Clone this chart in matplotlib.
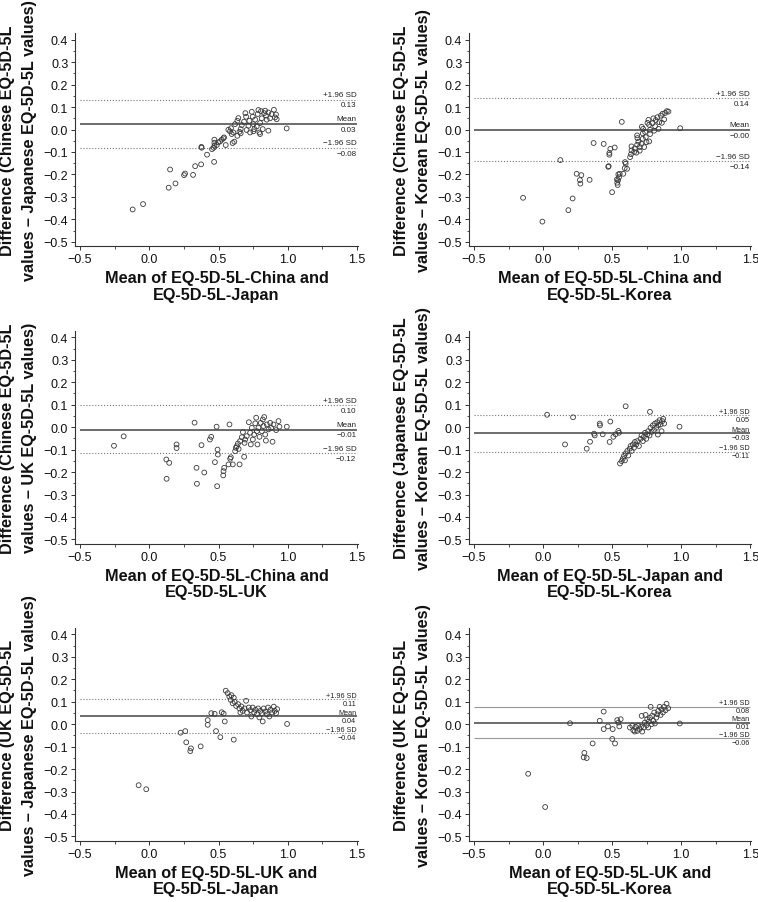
import matplotlib
matplotlib.use("Agg")
import matplotlib.pyplot as plt
from matplotlib.ticker import MultipleLocator

plt.rcParams["font.family"] = ["Liberation Sans", "DejaVu Sans"]

# Chinese vs Japanese
p1_x = [-0.12, -0.045, 0.14, 0.15, 0.189, 0.251, 0.258, 0.316, 0.331, 0.374, 0.376, 0.378,
        0.417, 0.468, 0.453, 0.465, 0.47, 0.47, 0.47, 0.487, 0.499, 0.511, 0.523, 0.535,
        0.54, 0.552, 0.602, 0.614, 0.571, 0.583, 0.59, 0.607, 0.619, 0.636, 0.643, 0.636,
        0.651, 0.66, 0.668, 0.684, 0.694, 0.699, 0.703, 0.716, 0.723, 0.728, 0.74, 0.747,
        0.752, 0.759, 0.764, 0.776, 0.783, 0.788, 0.795, 0.8, 0.807, 0.812, 0.819, 0.829,
        0.836, 0.843, 0.848, 0.86, 0.86, 0.872, 0.884, 0.9, 0.908, 0.915, 0.92, 0.992,
        0.8, 0.752, 0.66, 0.595]
p1_y = [-0.356, -0.332, -0.259, -0.178, -0.24, -0.203, -0.196, -0.202, -0.163, -0.155, -0.077, -0.081,
        -0.112, -0.144, -0.087, -0.081, -0.072, -0.059, -0.045, -0.069, -0.057, -0.053, -0.045, -0.039,
        -0.035, -0.069, -0.06, -0.054, -0.001, -0.008, 0.006, -0.013, 0.024, 0.039, 0.051, -0.028,
        -0.01, 0.002, 0.02, 0.035, 0.073, 0.057, -0.002, 0.017, 0.039, -0.013, 0.079, 0.057,
        0.024, 0.002, 0.044, 0.014, 0.069, 0.087, -0.013, 0.029, 0.082, 0.05, 0.002, 0.073,
        0.084, 0.062, 0.044, -0.005, 0.076, 0.05, 0.069, 0.088, 0.054, 0.067, 0.046, 0.005,
        -0.02, -0.008, -0.017, -0.02]

# Chinese vs Korean
p2_x = [-0.145, -0.005, 0.125, 0.183, 0.214, 0.267, 0.27, 0.243, 0.277, 0.337, 0.366, 0.439,
        0.472, 0.48, 0.48, 0.487, 0.5, 0.519, 0.545, 0.535, 0.537, 0.54, 0.57, 0.581,
        0.594, 0.598, 0.591, 0.608, 0.555, 0.55, 0.543, 0.63, 0.637, 0.64, 0.64, 0.659,
        0.664, 0.676, 0.681, 0.683, 0.681, 0.69, 0.7, 0.7, 0.712, 0.722, 0.722, 0.724,
        0.732, 0.739, 0.744, 0.749, 0.763, 0.756, 0.768, 0.768, 0.775, 0.775, 0.792, 0.799,
        0.804, 0.811, 0.816, 0.828, 0.836, 0.841, 0.853, 0.86, 0.865, 0.877, 0.884, 0.896,
        0.908, 0.993, 0.715, 0.475]
p2_y = [-0.304, -0.41, -0.136, -0.359, -0.307, -0.225, -0.241, -0.197, -0.203, -0.224, -0.06, -0.064,
        -0.166, -0.104, -0.112, -0.086, -0.279, -0.08, -0.2, -0.222, -0.237, -0.247, 0.034, -0.197,
        -0.145, -0.152, -0.172, -0.175, -0.197, -0.212, -0.226, -0.123, -0.11, -0.093, -0.075, -0.1,
        -0.084, -0.103, -0.068, -0.038, -0.026, -0.054, -0.078, -0.094, -0.063, -0.041, -0.017, 0.003,
        -0.078, -0.011, -0.034, -0.056, 0.043, 0.03, 0.021, -0.053, -0.02, -0.001, 0.028, 0.05,
        -0.005, 0.015, 0.042, 0.055, 0.003, 0.033, 0.062, 0.03, 0.07, 0.045, 0.074, 0.082,
        0.08, 0.006, 0.012, -0.163]

# Chinese vs UK
p3_x = [-0.255, -0.185, 0.123, 0.144, 0.125, 0.197, 0.197, 0.327, 0.341, 0.344, 0.377, 0.397,
        0.438, 0.447, 0.486, 0.474, 0.493, 0.495, 0.49, 0.579, 0.541, 0.536, 0.534, 0.572,
        0.584, 0.589, 0.603, 0.62, 0.625, 0.632, 0.64, 0.652, 0.656, 0.668, 0.676, 0.685,
        0.688, 0.692, 0.704, 0.719, 0.728, 0.733, 0.74, 0.748, 0.757, 0.765, 0.772, 0.777,
        0.781, 0.788, 0.796, 0.805, 0.813, 0.82, 0.825, 0.83, 0.837, 0.842, 0.849, 0.861,
        0.873, 0.88, 0.89, 0.897, 0.916, 0.933, 0.94, 0.993, 0.645]
p3_y = [-0.083, -0.041, -0.144, -0.159, -0.23, -0.077, -0.093, 0.02, -0.181, -0.252, -0.08, -0.202,
        -0.055, -0.043, 0.002, -0.156, -0.1, -0.122, -0.263, 0.012, -0.181, -0.196, -0.215, -0.166,
        -0.141, -0.134, -0.166, -0.107, -0.092, -0.085, -0.073, -0.166, -0.062, -0.045, -0.022, -0.132,
        -0.07, -0.055, -0.04, 0.022, -0.025, -0.077, -0.003, -0.055, -0.033, 0.017, 0.042, -0.018,
        -0.077, -0.003, -0.043, 0.019, -0.018, 0.034, 0.005, 0.045, -0.033, -0.06, 0.012, -0.01,
        0.019, -0.003, -0.065, 0.012, -0.013, 0.027, 0.002, 0.002, -0.097]

# Japanese vs Korean
p4_x = [0.029, 0.217, 0.159, 0.316, 0.34, 0.369, 0.374, 0.41, 0.412, 0.432, 0.487, 0.482,
        0.509, 0.525, 0.545, 0.55, 0.598, 0.774, 0.557, 0.569, 0.578, 0.586, 0.593, 0.598,
        0.61, 0.617, 0.627, 0.634, 0.641, 0.651, 0.658, 0.665, 0.675, 0.682, 0.694, 0.706,
        0.713, 0.723, 0.73, 0.738, 0.747, 0.754, 0.761, 0.771, 0.778, 0.786, 0.795, 0.803,
        0.81, 0.82, 0.827, 0.834, 0.844, 0.851, 0.858, 0.863, 0.87, 0.877, 0.988, 0.831]
p4_y = [0.055, 0.044, -0.077, -0.096, -0.065, -0.029, -0.037, 0.016, 0.008, -0.032, 0.025, -0.066,
        -0.043, -0.032, -0.017, -0.025, 0.093, 0.068, -0.162, -0.151, -0.14, -0.128, -0.148, -0.117,
        -0.106, -0.126, -0.096, -0.084, -0.106, -0.077, -0.092, -0.066, -0.077, -0.062, -0.084, -0.052,
        -0.037, -0.062, -0.043, -0.025, -0.052, -0.032, -0.018, -0.037, -0.003, -0.021, 0.008, -0.013,
        0.016, -0.003, 0.022, 0.008, 0.031, 0.012, -0.018, 0.027, 0.037, 0.016, 0.002, -0.033]

# UK vs Japanese
p5_x = [-0.077, -0.022, 0.226, 0.26, 0.267, 0.301, 0.296, 0.371, 0.422, 0.422, 0.448, 0.472,
        0.482, 0.513, 0.523, 0.537, 0.545, 0.61, 0.552, 0.566, 0.578, 0.588, 0.602, 0.61,
        0.617, 0.627, 0.641, 0.651, 0.665, 0.675, 0.689, 0.699, 0.706, 0.718, 0.73, 0.737,
        0.747, 0.757, 0.766, 0.778, 0.786, 0.795, 0.802, 0.814, 0.819, 0.826, 0.838, 0.85,
        0.858, 0.867, 0.875, 0.887, 0.899, 0.906, 0.916, 0.923, 0.995, 0.593, 0.658]
p5_y = [-0.272, -0.29, -0.038, -0.031, -0.081, -0.108, -0.12, -0.099, 0.018, -0.003, 0.049, 0.046,
        -0.031, -0.058, 0.053, 0.047, 0.012, -0.069, 0.149, 0.138, 0.123, 0.108, 0.093, 0.118,
        0.099, 0.081, 0.089, 0.07, 0.079, 0.059, 0.07, 0.104, 0.052, 0.074, 0.062, 0.034,
        0.074, 0.052, 0.064, 0.044, 0.07, 0.03, 0.059, 0.049, 0.012, 0.07, 0.056, 0.044,
        0.074, 0.034, 0.064, 0.052, 0.078, 0.059, 0.049, 0.067, 0.001, 0.129, 0.052]

# UK vs Korean
p6_x = [-0.108, 0.015, 0.195, 0.299, 0.294, 0.316, 0.359, 0.41, 0.439, 0.439, 0.47, 0.504,
        0.501, 0.521, 0.537, 0.545, 0.562, 0.552, 0.629, 0.646, 0.653, 0.663, 0.67, 0.682,
        0.689, 0.699, 0.709, 0.714, 0.718, 0.73, 0.737, 0.742, 0.75, 0.754, 0.762, 0.766,
        0.779, 0.774, 0.786, 0.79, 0.798, 0.805, 0.81, 0.82, 0.827, 0.834, 0.844, 0.851,
        0.858, 0.868, 0.877, 0.887, 0.894, 0.906, 0.99]
p6_y = [-0.221, -0.369, 0.004, -0.128, -0.148, -0.151, -0.086, 0.015, 0.056, -0.022, -0.01, -0.022,
        -0.066, -0.086, 0.018, 0.007, 0.022, -0.01, -0.015, -0.007, -0.027, -0.033, -0.012, -0.03,
        -0.007, -0.022, -0.012, 0.037, -0.033, -0.015, 0.007, 0.041, -0.004, 0.022, -0.015, 0.012,
        0.077, 0.029, 0.0, 0.037, 0.015, 0.052, 0.003, 0.029, 0.044, 0.059, 0.077, 0.041,
        0.066, 0.052, 0.077, 0.062, 0.091, 0.071, 0.003]

xs = [p1_x, p2_x, p3_x, p4_x, p5_x, p6_x]
ys = [p1_y, p2_y, p3_y, p4_y, p5_y, p6_y]

# limits of agreement (upper, mean, lower)
upper_loa = [0.133, 0.139, 0.097, 0.053, 0.110, 0.078]
mean_diff = [0.026, -0.002, -0.011, -0.028, 0.036, 0.006]
lower_loa = [-0.082, -0.142, -0.116, -0.109, -0.041, -0.063]

ylabels = [
    "Difference (Chinese EQ-5D-5L\nvalues \u2013 Japanese EQ-5D-5L values)",
    "Difference (Chinese EQ-5D-5L\nvalues \u2013 Korean EQ-5D-5L values)",
    "Difference (Chinese EQ-5D-5L\nvalues \u2013 UK EQ-5D-5L values)",
    "Difference (Japanese EQ-5D-5L\nvalues \u2013 Korean EQ-5D-5L values)",
    "Difference (UK EQ-5D-5L\nvalues \u2013 Japanese EQ-5D-5L values)",
    "Difference (UK EQ-5D-5L\nvalues \u2013 Korean EQ-5D-5L values)",
]
xlabels = [
    "Mean of EQ-5D-5L-China and\nEQ-5D-5L-Japan",
    "Mean of EQ-5D-5L-China and\nEQ-5D-5L-Korea",
    "Mean of EQ-5D-5L-China and\nEQ-5D-5L-UK",
    "Mean of EQ-5D-5L-Japan and\nEQ-5D-5L-Korea",
    "Mean of EQ-5D-5L-UK and\nEQ-5D-5L-Japan",
    "Mean of EQ-5D-5L-UK and\nEQ-5D-5L-Korea",
]
line_styles = ["dotted", "dotted", "dotted", "dotted", "dotted", "solid"]


def fmt(v, nd=2):
    return f"{v:.{nd}f}".replace("-", "\u2212")


W, H = 758, 903
fig = plt.figure(figsize=(W / 100, H / 100), dpi=100)

col_left = [75.2, 469.2]
col_width = [282.5, 281.7]
row_top = [34.0, 331.6, 628.6]
ax_h = 213.3
px_per_unit = ax_h / 0.95

for i in range(6):
    r, c = divmod(i, 2)
    ax = fig.add_axes([col_left[c] / W, 1 - (row_top[r] + ax_h) / H,
                       col_width[c] / W, ax_h / H])
    ax.set_xlim(-0.535, 1.505)
    ax.set_ylim(-0.52, 0.43)
    for s in ("top", "right"):
        ax.spines[s].set_visible(False)
    for s in ("left", "bottom"):
        ax.spines[s].set_color("#333333")
        ax.spines[s].set_linewidth(0.8)

    ax.set_xticks([-0.5, 0.0, 0.5, 1.0, 1.5])
    ax.set_yticks([0.4, 0.3, 0.2, 0.1, 0.0, -0.1, -0.2, -0.3, -0.4, -0.5])
    ax.xaxis.set_minor_locator(MultipleLocator(0.25))
    ax.yaxis.set_minor_locator(MultipleLocator(0.05))
    ax.xaxis.set_major_formatter(lambda v, p: fmt(v, 1))
    ax.yaxis.set_major_formatter(lambda v, p: fmt(v, 1))
    ax.tick_params(which="major", length=3, width=0.7, color="#333333",
                   labelsize=9, pad=2, labelcolor="#111111")
    ax.tick_params(which="minor", length=1.8, width=0.6, color="#333333")

    ls = line_styles[i]
    sd_col = "#777777" if ls == "dotted" else "#999999"
    ax.hlines([upper_loa[i], lower_loa[i]], -0.5, 1.5, colors=sd_col,
              linestyles=ls, linewidth=0.8)
    ax.hlines(mean_diff[i], -0.5, 1.5, colors="#444444", linewidth=1.1)

    ax.scatter(xs[i], ys[i], s=12, facecolors="none", edgecolors="#3a3a3a",
               linewidths=0.6, zorder=3)

    # labels of the limit lines, name above and value below;
    # tighter where the lines sit close together
    gap = min(upper_loa[i] - mean_diff[i], mean_diff[i] - lower_loa[i]) * px_per_unit
    if gap > 22:
        fs, off = 5.8, 1.3
    else:
        fs, off = 5.2, 0.5
    for lvl, name in ((upper_loa[i], "+1.96 SD"), (mean_diff[i], "Mean"),
                      (lower_loa[i], "\u22121.96 SD")):
        ax.annotate(name, (1.495, lvl), xytext=(0, off - 0.1), textcoords="offset points",
                    ha="right", va="bottom", fontsize=fs, color="#222222")
        ax.annotate(fmt(lvl), (1.495, lvl), xytext=(0, -off), textcoords="offset points",
                    ha="right", va="top", fontsize=fs, color="#222222")

    ax.set_ylabel(ylabels[i], fontsize=11.7, fontweight="bold", linespacing=1.6,
                  multialignment="center", color="#111111")
    ax.yaxis.set_label_coords(-38 / col_width[c], 0.5)
    ax.set_xlabel(xlabels[i], fontsize=11.7, fontweight="bold", linespacing=1.1,
                  color="#111111")
    ax.xaxis.set_label_coords(0.5, -24 / ax_h)

fig.savefig("out.png", dpi=100)
